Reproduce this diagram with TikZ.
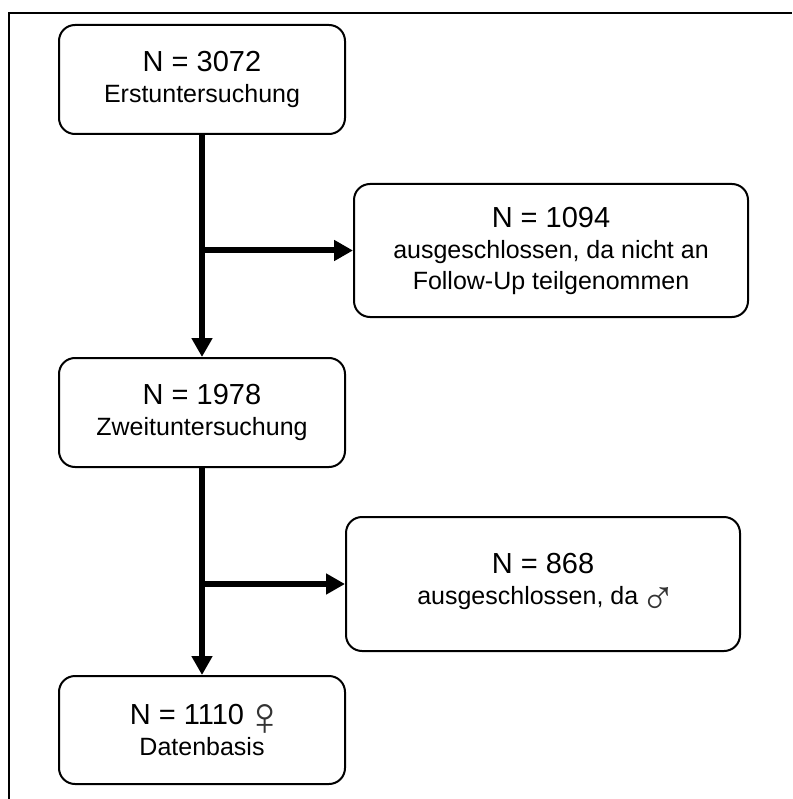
\documentclass[tikz,border=0pt]{standalone}
\usepackage{fontspec}
\setmainfont{Liberation Sans}
\usetikzlibrary{arrows.meta}
\newcommand{\bigline}[1]{{\fontsize{29}{31}\selectfont #1}}
\newcommand{\femsym}{\hspace{12pt}\makebox[18pt]{\raisebox{-10.7pt}{\smash{\fontsize{55}{55}\selectfont\color{black!80}♀}}}}
\newcommand{\malsym}{\hspace{10.5pt}\makebox[20pt]{\raisebox{-10.2pt}{\smash{\fontsize{48}{48}\selectfont\color{black!80}♂}}}}
\begin{document}
\begin{tikzpicture}[x=1pt,y=-1pt,
  box/.style={draw, line width=2pt, rounded corners=16pt, align=center, inner sep=0pt,
    font=\fontsize{25}{31}\selectfont},
  frame/.style={line width=2pt},
  arr/.style={line width=6pt, -{Triangle[length=19pt,width=20pt]}}]
\useasboundingbox (0,0) rectangle (792,799);
\draw[frame] (8.5,799) -- (8.5,13) -- (792,13);

\node[box, minimum width=286pt, minimum height=109pt] (b1) at (202,79.5)
  {\bigline{N = 3072}\\Erstuntersuchung};
\node[box, minimum width=394pt, minimum height=133pt] (b2) at (551,250.5)
  {\bigline{N = 1094}\\ausgeschlossen, da nicht an\\Follow-Up teilgenommen};
\node[box, minimum width=286pt, minimum height=109pt] (b3) at (202,412.5)
  {\bigline{N = 1978}\\Zweituntersuchung};
\node[box, minimum width=394pt, minimum height=134pt] (b4) at (543,584)
  {\bigline{N = 868}\\ausgeschlossen, da\malsym};
\node[box, minimum width=286pt, minimum height=108pt] (b5) at (202,730)
  {\bigline{N = 1110\femsym}\\Datenbasis};

\coordinate (j1) at (b1.south |- b2.west);
\coordinate (j2) at (b3.south |- b4.west);

\draw[arr] (b1.south) -- (b3.north);
\draw[arr] (j1) -- (b2.west);
\draw[arr] (b3.south) -- (b5.north);
\draw[arr] (j2) -- (b4.west);
\end{tikzpicture}
\end{document}
